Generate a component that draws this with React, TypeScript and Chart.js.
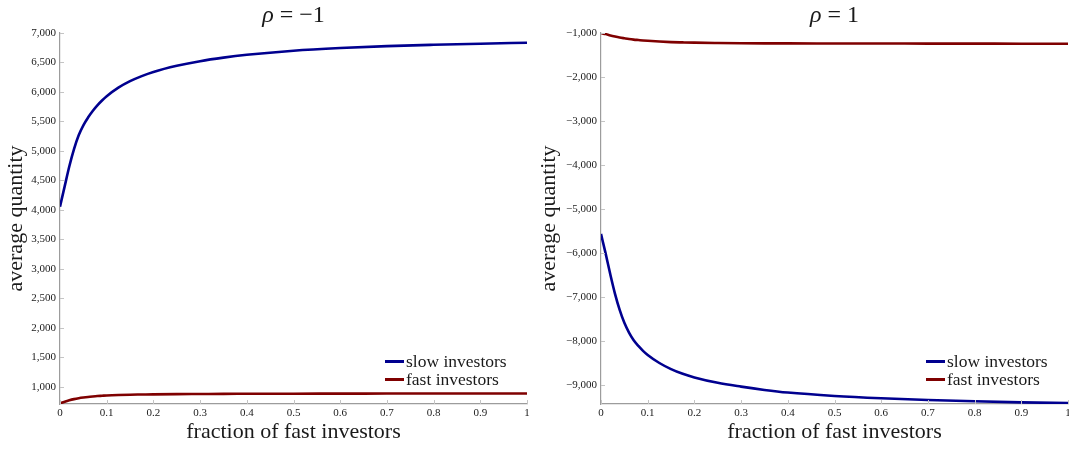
import { useEffect, useRef } from "react";
import { Chart, registerables } from "chart.js";

Chart.register(...registerables);

// Share of fast investors in the market (x axis)
const fractions = [
  0, 0.01, 0.02, 0.03, 0.04, 0.05, 0.06, 0.07, 0.08, 0.09, 0.1, 0.125, 0.15,
  0.175, 0.2, 0.25, 0.3, 0.35, 0.4, 0.5, 0.6, 0.7, 0.8, 0.9, 1.0,
];

// rho = -1
const slowNegRho = [
  4056, 4400, 4740, 5030, 5265, 5435, 5566, 5678, 5774, 5856, 5928, 6073,
  6183, 6269, 6339, 6443, 6522, 6582, 6630, 6700, 6745, 6777, 6800, 6819,
  6835,
];
const fastNegRho = [
  722, 750, 774, 793, 808, 820, 830, 838, 845, 850, 855, 863, 868, 871, 874,
  878, 880, 882, 883, 885, 886, 887, 888, 888, 889,
];

// rho = 1
const slowPosRho = [
  -5570, -6020, -6495, -6934, -7300, -7594, -7815, -7990, -8120, -8230, -8325,
  -8507, -8646, -8754, -8835, -8958, -9045, -9120, -9180, -9257, -9310, -9349,
  -9379, -9402, -9421,
];
const fastPosRho = [
  -1000, -1025, -1055, -1080, -1102, -1120, -1137, -1150, -1160, -1170, -1178,
  -1195, -1207, -1214, -1220, -1227, -1232, -1235, -1237, -1239, -1240, -1241,
  -1242, -1243, -1243,
];

const xTickValues = [0, 0.1, 0.2, 0.3, 0.4, 0.5, 0.6, 0.7, 0.8, 0.9, 1];
const yTicksNeg = [
  1000, 1500, 2000, 2500, 3000, 3500, 4000, 4500, 5000, 5500, 6000, 6500, 7000,
];
const yTicksPos = [-9000, -8000, -7000, -6000, -5000, -4000, -3000, -2000, -1000];

const seriesLabels = ["slow investors", "fast investors"];
const SLOW_COLOR = "#00008f";
const FAST_COLOR = "#7f0000";
const AXIS_COLOR = "#9c9c9c";
const TEXT_COLOR = "#1a1a1a";
const SERIF = "'Liberation Serif', 'DejaVu Serif', 'Times New Roman', serif";

const formatQuantity = (v: number) => {
  const s = Math.abs(v).toLocaleString("en-US");
  return v < 0 ? "\u2212" + s : s;
};
const formatFraction = (v: number) => String(Number(v.toFixed(1)));

// Short tick marks pointing into the plot area
const innerTicks = {
  id: "innerTicks",
  afterDraw(chart: any) {
    const ctx = chart.ctx;
    const area = chart.chartArea;
    const len = 4;
    ctx.save();
    ctx.strokeStyle = "#c4c4c4";
    ctx.lineWidth = 1;
    ctx.beginPath();
    const xs = chart.scales.x;
    xs.ticks.forEach((t: any) => {
      const px = Math.round(xs.getPixelForValue(t.value)) + 0.5;
      ctx.moveTo(px, area.bottom);
      ctx.lineTo(px, area.bottom - len);
    });
    const ys = chart.scales.y;
    ys.ticks.forEach((t: any) => {
      const py = Math.round(ys.getPixelForValue(t.value)) + 0.5;
      ctx.moveTo(area.left, py);
      ctx.lineTo(area.left + len, py);
    });
    ctx.stroke();
    ctx.restore();
  },
};

type PanelProps = {
  left: number;
  width: number;
  yAxisWidth: number;
  padRight: number;
  yMin: number;
  yMax: number;
  yTicks: number[];
  slow: number[];
  fast: number[];
  rhoText: string;
};

function Panel(props: PanelProps) {
  const canvasRef = useRef<HTMLCanvasElement>(null);

  useEffect(() => {
    if (!canvasRef.current) return;
    const toPoints = (vals: number[]) =>
      fractions.map((x, i) => ({ x, y: vals[i] }));
    const chart = new Chart(canvasRef.current, {
      type: "line",
      data: {
        datasets: [
          {
            label: seriesLabels[0],
            data: toPoints(props.slow),
            borderColor: SLOW_COLOR,
            borderWidth: 2.6,
            pointRadius: 0,
            cubicInterpolationMode: "monotone",
            fill: false,
          },
          {
            label: seriesLabels[1],
            data: toPoints(props.fast),
            borderColor: FAST_COLOR,
            borderWidth: 2.6,
            pointRadius: 0,
            cubicInterpolationMode: "monotone",
            fill: false,
          },
        ],
      },
      options: {
        animation: false,
        responsive: true,
        maintainAspectRatio: false,
        layout: { padding: { top: 33, right: props.padRight, left: 0, bottom: 0 } },
        plugins: {
          legend: { display: false },
          tooltip: { enabled: false },
          title: { display: false },
        },
        scales: {
          x: {
            type: "linear",
            min: 0,
            max: 1,
            afterBuildTicks: (scale: any) => {
              scale.ticks = xTickValues.map((v) => ({ value: v }));
            },
            afterFit: (scale: any) => {
              scale.height = 46;
              scale.paddingRight = 0;
              scale.paddingLeft = 0;
            },
            grid: { display: false, drawTicks: false },
            border: { display: true, color: AXIS_COLOR, width: 1.2 },
            ticks: {
              padding: 3,
              maxRotation: 0,
              autoSkip: false,
              color: TEXT_COLOR,
              font: { family: SERIF, size: 11 },
              callback: (v: any) => formatFraction(Number(v)),
            },
            title: {
              display: true,
              text: "fraction of fast investors",
              color: TEXT_COLOR,
              font: { family: SERIF, size: 22, lineHeight: 1.2 },
              padding: { top: 0, bottom: 5 },
            },
          },
          y: {
            type: "linear",
            min: props.yMin,
            max: props.yMax,
            afterBuildTicks: (scale: any) => {
              scale.ticks = props.yTicks.map((v) => ({ value: v }));
            },
            afterFit: (scale: any) => {
              scale.width = props.yAxisWidth;
            },
            grid: { display: false, drawTicks: false },
            border: { display: true, color: AXIS_COLOR, width: 1.2 },
            ticks: {
              padding: 4,
              autoSkip: false,
              color: TEXT_COLOR,
              font: { family: SERIF, size: 11 },
              callback: (v: any) => formatQuantity(Number(v)),
            },
            title: {
              display: true,
              text: "average quantity",
              color: TEXT_COLOR,
              font: { family: SERIF, size: 22, lineHeight: 1.2 },
              padding: { top: 3, bottom: 0 },
            },
          },
        },
      },
      plugins: [innerTicks],
    } as any);
    return () => chart.destroy();
  }, []);

  const plotLeft = props.yAxisWidth;
  const plotRight = props.width - props.padRight;
  const legendLeft = plotRight - 142;

  return (
    <div
      style={{
        position: "absolute",
        left: props.left,
        top: 0,
        width: props.width,
        height: 450,
      }}
    >
      <canvas ref={canvasRef} />
      <div
        style={{
          position: "absolute",
          top: 0,
          left: plotLeft,
          width: plotRight - plotLeft,
          textAlign: "center",
          fontFamily: SERIF,
          fontSize: 24,
          lineHeight: "28px",
          color: TEXT_COLOR,
          whiteSpace: "nowrap",
        }}
      >
        <i>ρ</i> = {props.rhoText}
      </div>
      <div
        style={{
          position: "absolute",
          left: legendLeft,
          top: 352,
          fontFamily: SERIF,
          fontSize: 17.5,
          lineHeight: "18.4px",
          color: TEXT_COLOR,
          whiteSpace: "nowrap",
        }}
      >
        {seriesLabels.map((label, i) => (
          <div key={label} style={{ display: "flex", alignItems: "center" }}>
            <span
              style={{
                display: "inline-block",
                width: 19,
                height: 2.6,
                marginRight: 2,
                background: i === 0 ? SLOW_COLOR : FAST_COLOR,
              }}
            />
            <span>{label}</span>
          </div>
        ))}
      </div>
    </div>
  );
}

export default function App() {
  return (
    <div
      style={{
        position: "fixed",
        left: 0,
        top: 0,
        width: 1069,
        height: 450,
        background: "#ffffff",
      }}
    >
      <Panel
        left={0}
        width={534}
        yAxisWidth={60}
        padRight={7}
        yMin={710}
        yMax={7000}
        yTicks={yTicksNeg}
        slow={slowNegRho}
        fast={fastNegRho}
        rhoText={"\u22121"}
      />
      <Panel
        left={533}
        width={536}
        yAxisWidth={68}
        padRight={1}
        yMin={-9440}
        yMax={-1000}
        yTicks={yTicksPos}
        slow={slowPosRho}
        fast={fastPosRho}
        rhoText={"1"}
      />
    </div>
  );
}
